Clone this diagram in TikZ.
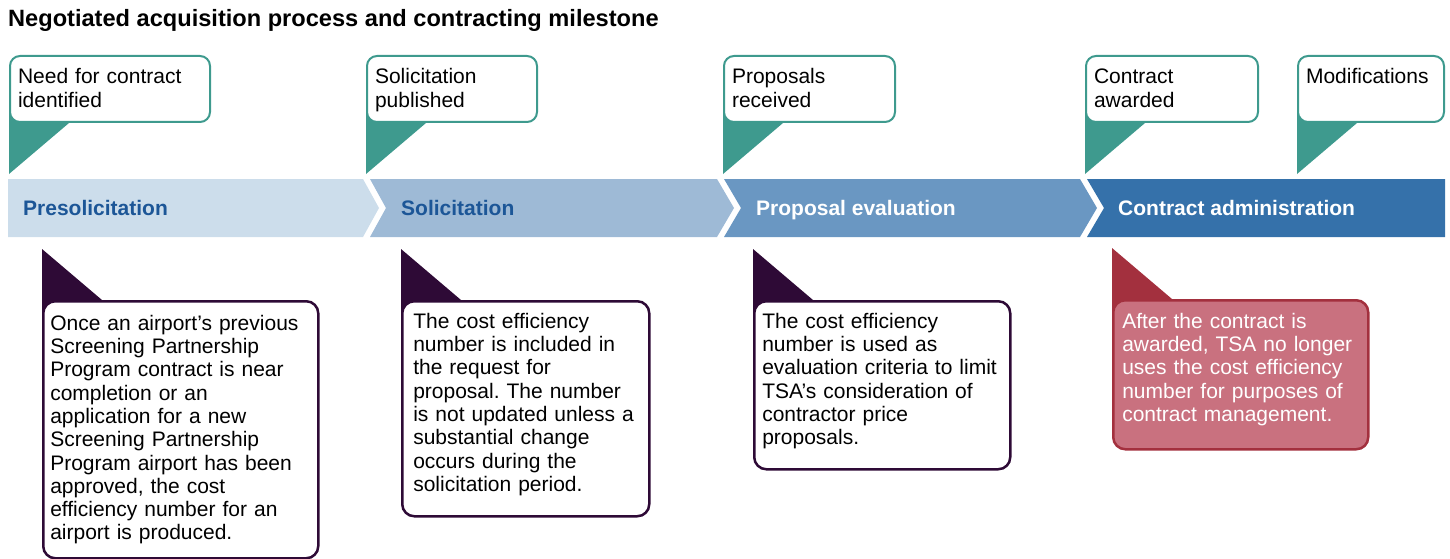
\documentclass[tikz,border=0pt]{standalone}
\usepackage{fontspec}
\setmainfont{Liberation Sans}
\usetikzlibrary{calc,backgrounds}
\frenchspacing

\definecolor{mileteal}{HTML}{3E9A8E}
\definecolor{notepurple}{HTML}{2E0A36}
\definecolor{notered}{HTML}{A3303E}
\definecolor{notepink}{HTML}{C9717F}
\definecolor{phaseA}{HTML}{CCDDEB}
\definecolor{phaseB}{HTML}{9EBAD6}
\definecolor{phaseC}{HTML}{6A97C2}
\definecolor{phaseD}{HTML}{3571AA}
\definecolor{phasetext}{HTML}{1C5697}

\begin{document}
\begin{tikzpicture}[x=1pt,y=-1pt]
  \tikzstyle{every node}=[inner sep=0pt]
  \tikzstyle{phase}=[anchor=base west,font=\fontsize{21}{24}\selectfont\bfseries]
  \tikzstyle{milestone}=[draw=mileteal,line width=2pt,rounded corners=10pt,fill=white,anchor=north west,align=left,inner xsep=8pt,inner ysep=0pt,text height=28pt,text depth=38pt,font=\fontsize{21}{24}\selectfont]
  \tikzstyle{note}=[draw=notepurple,line width=2.5pt,rounded corners=12pt,fill=white,anchor=north west,align=left,inner ysep=0pt,font=\fontsize{21}{23.3}\selectfont]

  \useasboundingbox (0,0) rectangle (1450,559);

  \node[anchor=base west,font=\fontsize{23.6}{26}\selectfont\bfseries] (T) at (8,27)
    {Negotiated acquisition process and contracting milestone};

  % phase band
  \fill[phaseA] (8,179) -- (363,179) -- (379,208) -- (363,237) -- (8,237) -- cycle;
  \fill[phaseB] (370,179) -- (717,179) -- (734,208) -- (717,237) -- (370,237) -- (386,208) -- cycle;
  \fill[phaseC] (724,179) -- (1080,179) -- (1097,208) -- (1080,237) -- (724,237) -- (741,208) -- cycle;
  \fill[phaseD] (1087,179) -- (1445,179) -- (1445,237) -- (1087,237) -- (1104,208) -- cycle;

  \node[phase,text=phasetext] (P) at (23,215)   {Presolicitation};
  \node[phase,text=phasetext] (S) at (401,215)  {Solicitation};
  \node[phase,text=white]     (V) at (756,215)  {Proposal evaluation};
  \node[phase,text=white]     (M) at (1118,215) {Contract administration};

  % milestones
  \node[milestone,text width=184pt] (A) at (9,55)    {Need for contract\\identified};
  \node[milestone,text width=154pt] (B) at (366,55)  {Solicitation\\published};
  \node[milestone,text width=155pt] (C) at (723,55)  {Proposals\\received};
  \node[milestone,text width=156pt] (D) at (1085,55) {Contract\\awarded};
  \node[milestone,text width=130pt] (E) at (1297,55) {Modifications};

  % notes
  \node[note,text width=261pt,inner xsep=7pt,text height=29pt,text depth=228pt] (F) at (42,300)
    {Once an airport’s previous\\Screening Partnership\\Program contract is near\\completion or an\\application for a new\\Screening Partnership\\Program airport has been\\approved, the cost\\efficiency number for an\\airport is produced.};
  \node[note,text width=225pt,inner xsep=11pt,text height=27pt,text depth=188pt] (G) at (401,300)
    {The cost efficiency\\number is included in\\the request for\\proposal. The number\\is not updated unless a\\substantial change\\occurs during the\\solicitation period.};
  \node[note,text width=240pt,inner xsep=8pt,text height=27pt,text depth=141pt] (H) at (753,300)
    {The cost efficiency\\number is used as\\evaluation criteria to limit\\TSA’s consideration of\\contractor price\\proposals.};
  \node[note,draw=notered,fill=notepink,text=white,text width=237pt,inner xsep=9pt,text height=28pt,text depth=121pt] (I) at (1112,299)
    {After the contract is\\awarded, TSA no longer\\uses the cost efficiency\\number for purposes of\\contract management.};

  \begin{scope}[on background layer]
    \foreach \n in {A,B,C,D,E}
      \fill[mileteal] ($(\n.south west)+(0pt,12pt)$) -- ($(\n.south west)+(60pt,12pt)$)
        -- ($(\n.south west)+(60pt,0pt)$) -- ($(\n.south west)+(0pt,-51pt)$) -- cycle;
    \foreach \n/\c in {F/notepurple,G/notepurple,H/notepurple,I/notered}
      \fill[\c] ($(\n.north west)+(0pt,51pt)$) -- ($(\n.north west)+(60pt,0pt)$)
        -- ($(\n.north west)+(60pt,-12pt)$) -- ($(\n.north west)+(0pt,-12pt)$) -- cycle;
  \end{scope}
\end{tikzpicture}
\end{document}
